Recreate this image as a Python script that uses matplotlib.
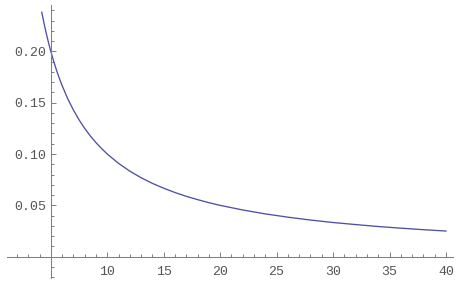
import numpy as np
import matplotlib.pyplot as plt; plt.ioff()
from matplotlib.ticker import FixedLocator, FixedFormatter

# values
x_vals = [4.2, 4.4, 4.6, 4.8, 5.0, 5.25, 5.5, 5.75, 6.0, 6.5, 7.0, 7.5, 8.0,
          8.5, 9.0, 9.5, 10.0, 11.0, 12.0, 13.0, 14.0, 15.0, 16.0, 17.0,
          18.0, 19.0, 20.0, 22.0, 24.0, 26.0, 28.0, 30.0, 32.0, 34.0, 36.0,
          38.0, 40.0]
y_vals = [0.2381, 0.2273, 0.2174, 0.2083, 0.2000, 0.1905, 0.1818, 0.1739,
          0.1667, 0.1538, 0.1429, 0.1333, 0.1250, 0.1176, 0.1111, 0.1053,
          0.1000, 0.0909, 0.0833, 0.0769, 0.0714, 0.0667, 0.0625, 0.0588,
          0.0556, 0.0526, 0.0500, 0.0455, 0.0417, 0.0385, 0.0357, 0.0333,
          0.0313, 0.0294, 0.0278, 0.0263, 0.0250]

x_major = [10, 15, 20, 25, 30, 35, 40]
x_labels = ['10', '15', '20', '25', '30', '35', '40']
y_major = [0.05, 0.10, 0.15, 0.20]
y_labels = ['0.05', '0.10', '0.15', '0.20']


def main():

    axis_clr = '#808080'
    lab_clr = '#555555'
    line_clr = '#4f4fa6'

    fig = plt.figure(figsize=(4.61, 2.87), dpi=100)
    ax = fig.add_axes([0, 0, 1, 1])

    ax.plot(x_vals, y_vals, c=line_clr, lw=0.95, solid_joinstyle='round')

    ax.set_xlim(0.50, 41.33)
    ax.set_ylim(-0.0295, 0.25)

    for side in ['top', 'right']:
        ax.spines[side].set_visible(False)

    ax.spines['left'].set_position(('data', 5))
    ax.spines['bottom'].set_position(('data', 0))
    ax.spines['left'].set_bounds(-0.0207, 0.245)
    ax.spines['bottom'].set_bounds(1.15, 40.6)

    for side in ['left', 'bottom']:
        ax.spines[side].set_color(axis_clr)
        ax.spines[side].set_linewidth(0.75)

    x_minor = [v for v in range(2, 41) if v % 5]
    y_minor = [v / 100 for v in range(-2, 25) if v % 5]

    ax.xaxis.set_major_locator(FixedLocator(x_major))
    ax.xaxis.set_major_formatter(FixedFormatter(x_labels))
    ax.xaxis.set_minor_locator(FixedLocator(x_minor))
    ax.yaxis.set_major_locator(FixedLocator(y_major))
    ax.yaxis.set_major_formatter(FixedFormatter(y_labels))
    ax.yaxis.set_minor_locator(FixedLocator(y_minor))

    ax.tick_params(which='both', direction='in', color=axis_clr, width=0.7,
                   labelcolor=lab_clr, labelsize=9.5)
    ax.tick_params(which='major', length=3.8)
    ax.tick_params(which='minor', length=2.2)
    ax.tick_params(axis='x', which='major', pad=7)
    ax.tick_params(axis='y', which='major', pad=3.2)

    for lab in ax.get_xticklabels() + ax.get_yticklabels():
        lab.set_family('Liberation Mono')

    fig.savefig('out.png', dpi=100)
    plt.close()
    return


if __name__ == '__main__':
    main()
